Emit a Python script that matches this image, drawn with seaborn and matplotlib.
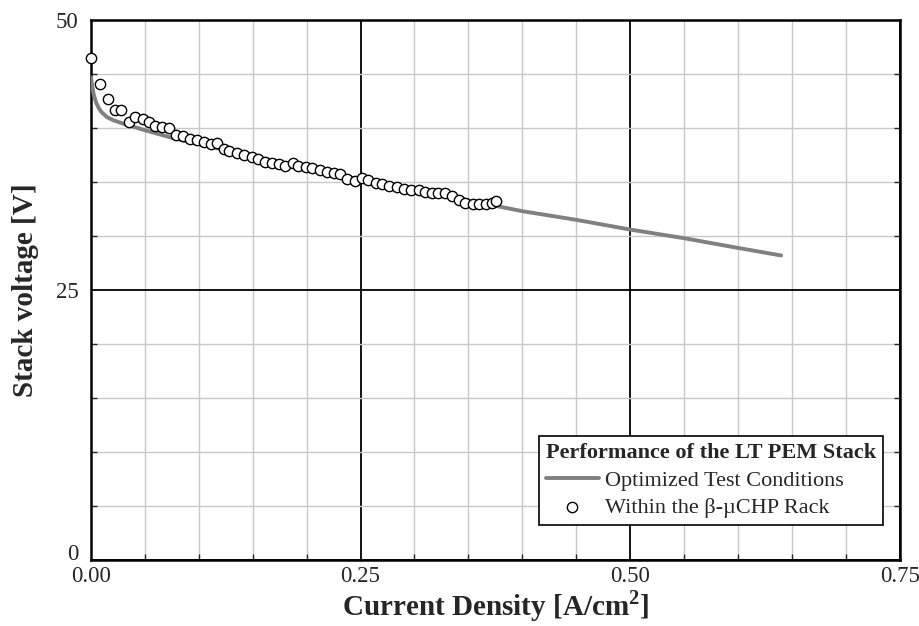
import numpy as np
import pandas as pd
import matplotlib
matplotlib.use("Agg")
import matplotlib.pyplot as plt
import matplotlib.transforms as mtransforms
import seaborn as sns
from matplotlib.ticker import MultipleLocator

# Optimized test conditions (line)
line_x = [0.0, 0.001, 0.0025, 0.005, 0.0075, 0.01, 0.015, 0.02, 0.03, 0.05, 0.075,
          0.1, 0.15, 0.2, 0.25, 0.3, 0.35, 0.4, 0.45, 0.5, 0.55, 0.6, 0.64]
line_y = [44.7, 44.0, 43.1, 42.3, 41.8, 41.45, 41.0, 40.75, 40.4, 39.8, 39.1,
          38.5, 37.4, 36.3, 35.2, 34.2, 33.3, 32.3, 31.5, 30.6, 29.8, 28.9, 28.2]

# Within the rack (markers)
pts_x = [0.000, 0.008, 0.016, 0.022, 0.028, 0.035, 0.041, 0.048, 0.054, 0.059,
         0.066, 0.072, 0.079, 0.085, 0.092, 0.098, 0.105, 0.111, 0.117, 0.123,
         0.128, 0.135, 0.142, 0.149, 0.155, 0.161, 0.168, 0.174, 0.180, 0.187,
         0.192, 0.199, 0.205, 0.212, 0.219, 0.225, 0.231, 0.237, 0.245, 0.251,
         0.257, 0.264, 0.270, 0.276, 0.284, 0.290, 0.297, 0.304, 0.310, 0.316,
         0.322, 0.328, 0.335, 0.341, 0.347, 0.354, 0.360, 0.366, 0.372, 0.376]
pts_y = [46.45, 44.1, 42.7, 41.7, 41.7, 40.6, 41.0, 40.8, 40.6, 40.2,
         40.05, 40.0, 39.4, 39.25, 39.0, 38.9, 38.7, 38.5, 38.6, 38.1,
         37.9, 37.7, 37.5, 37.3, 37.1, 36.9, 36.8, 36.7, 36.5, 36.8,
         36.5, 36.4, 36.3, 36.1, 35.95, 35.8, 35.7, 35.25, 35.1, 35.4,
         35.2, 34.9, 34.8, 34.65, 34.5, 34.4, 34.3, 34.25, 34.1, 34.0,
         34.0, 33.95, 33.7, 33.3, 33.1, 33.0, 33.0, 33.0, 33.1, 33.25]

x_ticks = [0.0, 0.25, 0.5, 0.75]
x_tick_labels = ["0.00", "0.25", "0.50", "0.75"]
y_ticks = [0, 25, 50]
y_tick_labels = ["0", "25", "50"]

sns.set_style("white")
plt.rcParams["font.family"] = ["Liberation Serif", "DejaVu Serif"]
plt.rcParams["mathtext.fontset"] = "custom"
plt.rcParams["mathtext.rm"] = "Liberation Serif"
plt.rcParams["mathtext.bf"] = "Liberation Serif:bold"

fig = plt.figure(figsize=(9.19, 6.26), dpi=100)
ax = fig.add_axes([0.099, 0.1054, 0.880, 0.8626])

df_line = pd.DataFrame({"x": line_x, "y": line_y})
df_pts = pd.DataFrame({"x": pts_x, "y": pts_y})

sns.lineplot(data=df_line, x="x", y="y", ax=ax, color="#808080", linewidth=2.8,
             label="Optimized Test Conditions", zorder=3)
sns.scatterplot(data=df_pts, x="x", y="y", ax=ax, marker="o", s=55,
                facecolor="white", edgecolor="black", linewidth=1.0,
                label="Within the \u03b2-\u00b5CHP Rack", zorder=4, clip_on=False)

ax.set_xlim(0, 0.75)
ax.set_ylim(0, 50)
ax.set_xticks(x_ticks)
ax.set_xticklabels(x_tick_labels)
ax.set_yticks(y_ticks)
ax.set_yticklabels(y_tick_labels)
ax.xaxis.set_minor_locator(MultipleLocator(0.05))
ax.yaxis.set_minor_locator(MultipleLocator(5))

ax.grid(which="minor", color="#c8c8c8", linewidth=1.0, zorder=0)
ax.grid(which="major", color="black", linewidth=1.3, zorder=1)
ax.set_axisbelow(True)

ax.tick_params(which="both", direction="in", top=False, right=True, left=True, bottom=True)
ax.tick_params(which="major", length=0, labelsize=16.5)
ax.tick_params(axis="x", which="major", pad=4)
ax.tick_params(axis="y", which="major", pad=9)
ax.tick_params(which="minor", length=4, width=1)

# nudge the "0" y label up slightly so it sits above "0.00"
lbl0 = ax.get_yticklabels()[0]
lbl0.set_transform(lbl0.get_transform() + mtransforms.ScaledTranslation(0, 6 / 72, fig.dpi_scale_trans))

for sp in ax.spines.values():
    sp.set_visible(True)
    sp.set_color("black")
    sp.set_linewidth(1.8)

ax.set_xlabel("Current Density [A/cm$^\\mathbf{2}$]", fontsize=21, fontweight="bold", labelpad=1)
ax.set_ylabel("Stack voltage [V]", fontsize=21, fontweight="bold", labelpad=12)

leg = ax.legend(title="Performance of the LT PEM Stack", loc="lower right",
                bbox_to_anchor=(0.979, 0.065), fontsize=16,
                title_fontproperties={"weight": "bold", "size": 16},
                frameon=True, fancybox=False, framealpha=1, edgecolor="black",
                handlelength=2.4, handletextpad=0.27, borderpad=0.3,
                labelspacing=0.32, borderaxespad=0, alignment="left")
leg.get_frame().set_linewidth(1.2)

fig.savefig("out.png", dpi=100)
